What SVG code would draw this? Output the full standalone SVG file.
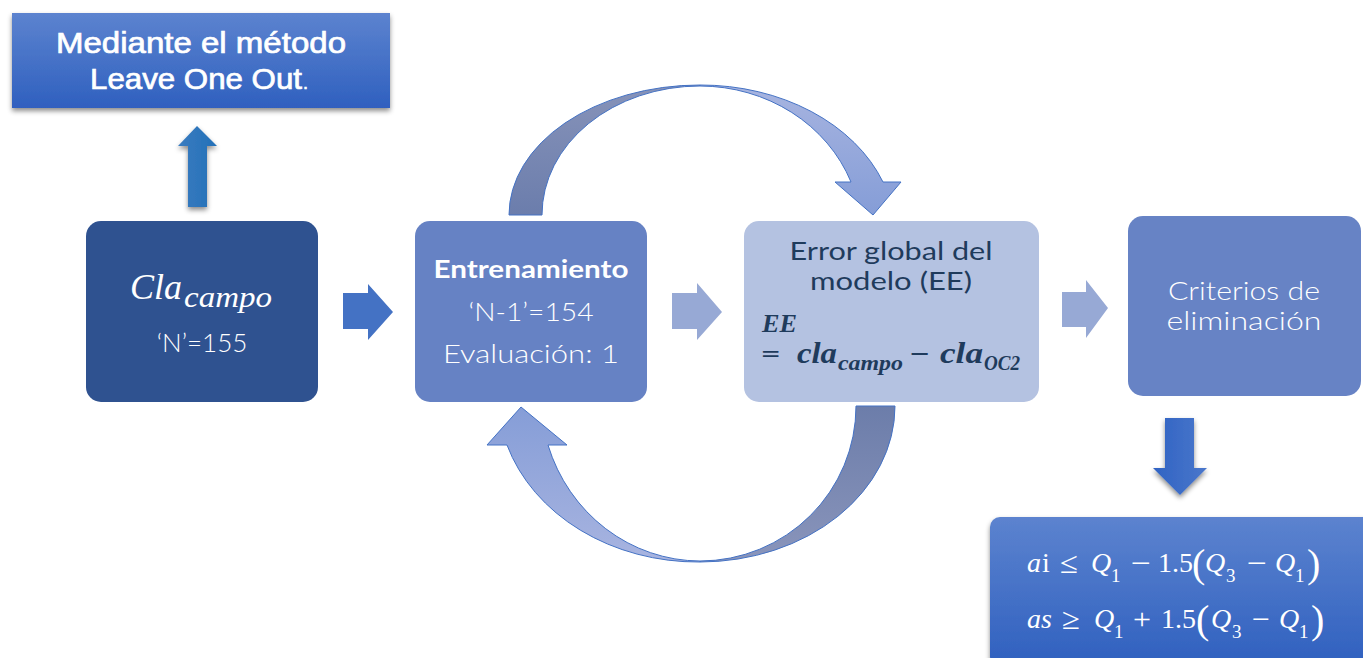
<svg xmlns="http://www.w3.org/2000/svg" width="1363" height="658" viewBox="0 0 1363 658">
<defs>
  <linearGradient id="gBlue" x1="0" y1="0" x2="0" y2="1">
    <stop offset="0" stop-color="#5c83cf"/>
    <stop offset="1" stop-color="#2f60bf"/>
  </linearGradient>
  <linearGradient id="gUp" x1="0" y1="0" x2="1" y2="0">
    <stop offset="0" stop-color="#3a7cc0"/>
    <stop offset="1" stop-color="#2370b8"/>
  </linearGradient>
  <linearGradient id="gDown" x1="0" y1="0" x2="1" y2="0">
    <stop offset="0" stop-color="#3063c3"/>
    <stop offset="1" stop-color="#4a77cb"/>
  </linearGradient>
  <linearGradient id="gDarkTop" gradientUnits="userSpaceOnUse" x1="0" y1="215" x2="0" y2="85">
    <stop offset="0" stop-color="#6b7dac"/>
    <stop offset="1" stop-color="#8793b9"/>
  </linearGradient>
  <linearGradient id="gLightTop" gradientUnits="userSpaceOnUse" x1="0" y1="85" x2="0" y2="215">
    <stop offset="0" stop-color="#a7b4e0"/>
    <stop offset="1" stop-color="#859dd7"/>
  </linearGradient>
  <linearGradient id="gDarkBot" gradientUnits="userSpaceOnUse" x1="0" y1="406" x2="0" y2="562">
    <stop offset="0" stop-color="#6c7daa"/>
    <stop offset="1" stop-color="#8a95bb"/>
  </linearGradient>
  <linearGradient id="gLightBot" gradientUnits="userSpaceOnUse" x1="0" y1="562" x2="0" y2="406">
    <stop offset="0" stop-color="#a8b4e0"/>
    <stop offset="1" stop-color="#859dd7"/>
  </linearGradient>
  <filter id="shadow" x="-10%" y="-10%" width="120%" height="140%">
    <feDropShadow dx="0" dy="3" stdDeviation="2.5" flood-color="#000" flood-opacity="0.45"/>
  </filter>
</defs>
<style>
  .light { font-family: Lato, "Liberation Sans", sans-serif; font-weight: 300; fill: #ffffff; }
  .bold { font-family: Lato, "Liberation Sans", sans-serif; font-weight: 700; fill: #ffffff; }
  .head { font-family: "Liberation Sans", Arial, sans-serif; font-weight: 400; fill: #ffffff; stroke: #ffffff; stroke-width: 0.7; }
  .dark { font-family: Lato, "Liberation Sans", sans-serif; font-weight: 400; fill: #1f3b5c; }
  .math { font-family: "Liberation Serif", serif; font-style: italic; fill: #ffffff; }
  .mathu { font-family: "Liberation Serif", serif; fill: #ffffff; }
  .mathb { font-family: "Liberation Serif", serif; font-style: italic; font-weight: 700; fill: #1f3b5c; }
  .band { stroke: #4472c4; stroke-width: 1; }
</style>

<g id="connectors">
  <!-- up arrow -->
  <path d="M188,207 L188,146 L178,146 L197,126 L217,146 L207,146 L207,207 Z" fill="url(#gUp)" filter="url(#shadow)"/>
  <!-- right arrows -->
  <path d="M343,293 L368,293 L368,284 L393,312 L368,340 L368,329 L343,329 Z" fill="#4472c4"/>
  <path d="M672,293 L697,293 L697,283 L722,312 L697,340 L697,329 L672,329 Z" fill="#97a9d5"/>
  <path d="M1062,292 L1086,292 L1086,280 L1108,308 L1086,338 L1086,327 L1062,327 Z" fill="#97a9d5"/>
  <!-- down arrow -->
  <path d="M1165,418 L1194,418 L1194,468 L1207,468 L1180,495 L1153,468 L1165,468 Z" fill="url(#gDown)" filter="url(#shadow)"/>
  <!-- top curved arrow -->
  <path class="band" d="M509,215 A191,130 0 0 1 700,85 L700,86 A158,129 0 0 0 542,215 Z" fill="url(#gDarkTop)"/>
  <path class="band" d="M700,85 A195,150 0 0 1 883,182 L901,182 L873,215 L835,182 L851,182 A162,149 0 0 0 700,86 Z" fill="url(#gLightTop)"/>
  <!-- bottom curved arrow -->
  <path class="band" d="M895,406 A195,156 0 0 1 700,562 L700,561 A156,155 0 0 0 856,406 Z" fill="url(#gDarkBot)"/>
  <path class="band" d="M700,562 A200,167 0 0 1 507,445 L487,445 L521,407 L567,445 L548,445 A160,166 0 0 0 700,561 Z" fill="url(#gLightBot)"/>
</g>

<g id="node-loo">
  <rect x="12" y="13" width="378" height="95" fill="url(#gBlue)" filter="url(#shadow)"/>
  <text class="head" x="56" y="53" font-size="29" textLength="290" lengthAdjust="spacingAndGlyphs">Mediante el método</text>
  <text class="head" x="90" y="89" font-size="29" textLength="212" lengthAdjust="spacingAndGlyphs">Leave One Out</text>
  <text class="head" x="303" y="89" font-size="18" stroke-width="0.3">.</text>
</g>

<g id="node-cla">
  <rect x="86" y="221" width="232" height="181" rx="15" fill="#2f5290"/>
  <text class="math" x="130" y="299" font-size="36">Cla</text>
  <text class="math" x="184" y="307" font-size="29" textLength="88" lengthAdjust="spacingAndGlyphs">campo</text>
  <text class="light" x="202" y="352" font-size="26" text-anchor="middle">‘N’=155</text>
</g>

<g id="node-entrenamiento">
  <rect x="415" y="221" width="232" height="181" rx="15" fill="#6682c4"/>
  <text class="bold" x="531" y="278" font-size="25" text-anchor="middle" textLength="195" lengthAdjust="spacingAndGlyphs">Entrenamiento</text>
  <text class="light" x="531" y="321" font-size="26" text-anchor="middle" textLength="125" lengthAdjust="spacingAndGlyphs">‘N-1’=154</text>
  <text class="light" x="531" y="363" font-size="26" text-anchor="middle" textLength="176" lengthAdjust="spacingAndGlyphs">Evaluación: 1</text>
</g>

<g id="node-error">
  <rect x="744" y="221" width="295" height="181" rx="15" fill="#b4c2e1"/>
  <text class="dark" x="891" y="260" font-size="25" text-anchor="middle" textLength="203" lengthAdjust="spacingAndGlyphs">Error global del</text>
  <text class="dark" x="891" y="290" font-size="25" text-anchor="middle" textLength="162" lengthAdjust="spacingAndGlyphs">modelo (EE)</text>
  <text class="mathb" x="762" y="332" font-size="25" textLength="35" lengthAdjust="spacingAndGlyphs">EE</text>
  <text class="mathb" x="761" y="362" font-size="24" font-style="normal" textLength="19" lengthAdjust="spacingAndGlyphs">=</text>
  <text class="mathb" x="797" y="363" font-size="29" textLength="40" lengthAdjust="spacingAndGlyphs">cla</text>
  <text class="mathb" x="838" y="370" font-size="21" textLength="65" lengthAdjust="spacingAndGlyphs">campo</text>
  <text class="mathb" x="909" y="363" font-size="28" font-style="normal" textLength="21" lengthAdjust="spacingAndGlyphs">−</text>
  <text class="mathb" x="940" y="363" font-size="29" textLength="43" lengthAdjust="spacingAndGlyphs">cla</text>
  <text class="mathb" x="984" y="370" font-size="21" textLength="36" lengthAdjust="spacingAndGlyphs">OC2</text>
</g>

<g id="node-criterios">
  <rect x="1128" y="216" width="233" height="180" rx="15" fill="#6783c5"/>
  <text class="light" x="1244" y="300" font-size="26" text-anchor="middle" textLength="152" lengthAdjust="spacingAndGlyphs">Criterios de</text>
  <text class="light" x="1244" y="330" font-size="26" text-anchor="middle" textLength="155" lengthAdjust="spacingAndGlyphs">eliminación</text>
</g>

<g id="node-formulas">
  <rect x="990" y="517" width="385" height="150" rx="10" fill="url(#gBlue)" filter="url(#shadow)"/>
  <g font-size="28">
    <text class="math" x="1027" y="572">a</text>
    <text class="mathu" x="1042" y="572">i</text>
    <text class="mathu" x="1060" y="573" font-size="30" textLength="18" lengthAdjust="spacingAndGlyphs">≤</text>
    <text class="math" x="1091" y="572">Q</text>
    <text class="mathu" x="1111" y="582" font-size="19">1</text>
    <text class="mathu" x="1131" y="573" font-size="30" textLength="20" lengthAdjust="spacingAndGlyphs">−</text>
    <text class="mathu" x="1158" y="572">1.5</text>
    <text class="mathu" x="1192" y="577" font-size="40">(</text>
    <text class="math" x="1205" y="572">Q</text>
    <text class="mathu" x="1226" y="582" font-size="19">3</text>
    <text class="mathu" x="1247" y="573" font-size="30" textLength="20" lengthAdjust="spacingAndGlyphs">−</text>
    <text class="math" x="1275" y="572">Q</text>
    <text class="mathu" x="1295" y="582" font-size="19">1</text>
    <text class="mathu" x="1307" y="577" font-size="40">)</text>

    <text class="math" x="1027" y="628">as</text>
    <text class="mathu" x="1062" y="629" font-size="30" textLength="18" lengthAdjust="spacingAndGlyphs">≥</text>
    <text class="math" x="1094" y="628">Q</text>
    <text class="mathu" x="1114" y="638" font-size="19">1</text>
    <text class="mathu" x="1133" y="629" font-size="30" textLength="18" lengthAdjust="spacingAndGlyphs">+</text>
    <text class="mathu" x="1161" y="628">1.5</text>
    <text class="mathu" x="1196" y="633" font-size="40">(</text>
    <text class="math" x="1211" y="628">Q</text>
    <text class="mathu" x="1232" y="638" font-size="19">3</text>
    <text class="mathu" x="1252" y="629" font-size="30" textLength="18" lengthAdjust="spacingAndGlyphs">−</text>
    <text class="math" x="1279" y="628">Q</text>
    <text class="mathu" x="1299" y="638" font-size="19">1</text>
    <text class="mathu" x="1311" y="633" font-size="40">)</text>
  </g>
</g>
</svg>
